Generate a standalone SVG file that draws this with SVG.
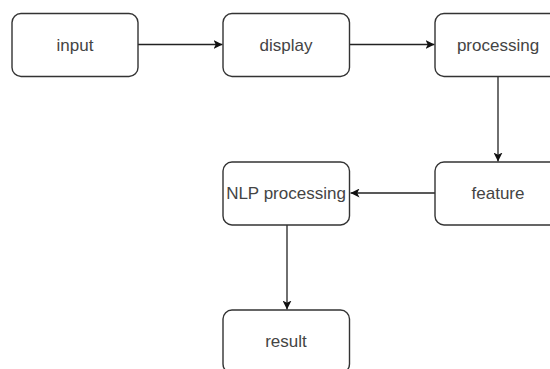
<svg xmlns="http://www.w3.org/2000/svg" width="550" height="369" viewBox="0 0 550 369">
  <style>
    .box { fill: #ffffff; stroke: #333333; stroke-width: 1.4; }
    .label { font-family: "Liberation Sans", Arial, sans-serif; font-size: 17px; fill: #444444; text-anchor: middle; }
    .edge { fill: none; stroke: #222222; stroke-width: 1.3; marker-end: url(#arrow); }
  </style>
  <defs>
    <marker id="arrow" viewBox="0 0 10 10" refX="10" refY="5" markerWidth="9" markerHeight="9" markerUnits="userSpaceOnUse" orient="auto">
      <path d="M0,0 L10,5 L0,10 L2.5,5 Z" fill="#111111"/>
    </marker>
  </defs>
  <rect width="550" height="369" fill="#ffffff"/>

  <g id="connectors">
    <path class="edge" d="M138,44.5 H222.5"/>
    <path class="edge" d="M349.5,44.5 H434.5"/>
    <path class="edge" d="M498,77 V161.5"/>
    <path class="edge" d="M435,193 H350.5"/>
    <path class="edge" d="M287,225 V309.5"/>
  </g>

  <g id="node-input">
    <rect class="box" x="12" y="13.5" width="126" height="63" rx="9"/>
    <text class="label" x="75" y="51">input</text>
  </g>
  <g id="node-display">
    <rect class="box" x="223" y="13.5" width="126.5" height="63" rx="9"/>
    <text class="label" x="286" y="51">display</text>
  </g>
  <g id="node-processing">
    <rect class="box" x="435" y="13.5" width="126" height="63" rx="9"/>
    <text class="label" x="498" y="51">processing</text>
  </g>
  <g id="node-feature">
    <rect class="box" x="435" y="162" width="126" height="63" rx="9"/>
    <text class="label" x="498" y="199">feature</text>
  </g>
  <g id="node-nlp">
    <rect class="box" x="223" y="162" width="126.5" height="63" rx="9"/>
    <text class="label" x="286" y="199">NLP processing</text>
  </g>
  <g id="node-result">
    <rect class="box" x="223" y="310" width="126.5" height="63" rx="9"/>
    <text class="label" x="286" y="347">result</text>
  </g>
</svg>
